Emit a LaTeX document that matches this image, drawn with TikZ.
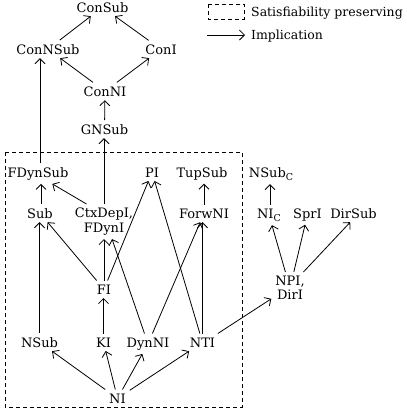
\documentclass[tikz,border=0pt]{standalone}
\usepackage{fontspec}
\setmainfont{DejaVu Serif}
\usetikzlibrary{arrows.meta}
\newcommand{\subC}{\raisebox{-3pt}{\fontsize{9.5}{9.5}\selectfont C}}
\begin{document}
\begin{tikzpicture}[x=1pt,y=-1pt,font=\fontsize{13}{14.5}\selectfont,
  lbl/.style={inner sep=1pt,outer sep=3pt,align=center,anchor=base},
  two/.style={inner sep=1pt,outer sep=3pt,align=center},
  legtext/.style={anchor=base west,inner sep=0pt,font=\fontsize{12.5}{14}\selectfont},
  imp/.style={line width=0.8pt,-{Straight Barb[length=5pt,width=10pt]}},
  sat/.style={line width=0.8pt,dash pattern=on 4pt off 3pt}]
\useasboundingbox (0,0) rectangle (407,410);
% nodes (single-line nodes are placed at their baselines)
\node[lbl] (ConSub) at (102.5,12) {ConSub};
\node[lbl] (ConNSub) at (48,54) {ConNSub};
\node[lbl] (ConI) at (161,54) {ConI};
\node[lbl] (ConNI) at (105,96) {ConNI};
\node[lbl] (GNSub) at (104.5,134) {GNSub};
\node[lbl] (FDynSub) at (38,177) {FDynSub};
\node[lbl] (PI) at (152,177) {PI};
\node[lbl] (TupSub) at (202,177) {TupSub};
\node[lbl] (NSubC) at (271,177) {NSub\subC};
\node[lbl] (Sub) at (40,218) {Sub};
\node[two] (CtxDepI) at (104,221.5) {CtxDepI,\\FDynI};
\node[lbl] (ForwNI) at (204,218) {ForwNI};
\node[lbl] (NIC) at (269,218) {NI\subC};
\node[lbl] (SprI) at (307.5,218) {SprI};
\node[lbl] (DirSub) at (353.5,218) {DirSub};
\node[lbl] (FI) at (104,294) {FI};
\node[two] (NPI) at (290,288) {NPI,\\DirI};
\node[lbl] (NSub) at (39.5,347) {NSub};
\node[lbl] (KI) at (103.5,347) {KI};
\node[lbl] (DynNI) at (148,347) {DynNI};
\node[lbl] (NTI) at (202.5,347) {NTI};
\node[lbl] (NI) at (117.5,403) {NI};
% satisfiability preserving region
\draw[sat] (5,152) rectangle (242,407);
% legend
\draw[sat] (208,4) rectangle (244,19);
\node[legtext] (legsat) at (251,16) {Satisfiability preserving};
\coordinate (impa) at (207,35);
\coordinate (impb) at (245,35);
\draw[imp] (impa) -- (impb);
\node[legtext] (legimp) at (251,39) {Implication};
% edges
\draw[imp] (ConNSub) -- (ConSub);
\draw[imp] (ConI) -- (ConSub);
\draw[imp] (ConNI) -- (ConNSub);
\draw[imp] (ConNI) -- (ConI);
\draw[imp] (GNSub) -- (ConNI);
\draw[imp] (CtxDepI) -- (CtxDepI |- GNSub.south);
\draw[imp] ([xshift=2pt]FDynSub.north) -- ([xshift=2pt]FDynSub.north |- ConNSub.south);
\draw[imp] ([xshift=1pt]Sub.north) -- ([xshift=1pt]Sub.north |- FDynSub.south);
\draw[imp] (CtxDepI.135) -- (FDynSub.-36);
\draw[imp] (FI) -- (Sub);
\draw[imp] (NSub) -- (NSub |- Sub.south);
\draw[imp] (FI) -- (FI |- CtxDepI.south);
\draw[imp] (DynNI) -- ([xshift=8pt]CtxDepI.south);
\draw[imp] (FI) -- (PI);
\draw[imp] (NTI) -- (PI);
\draw[imp] (DynNI) -- (ForwNI);
\draw[imp] (NTI) -- (NTI |- ForwNI.south);
\draw[imp] (ForwNI) -- (ForwNI |- TupSub.south);
\draw[imp] (KI) -- (KI |- FI.south);
\draw[imp] (NI) -- (NSub);
\draw[imp] (NI) -- (KI);
\draw[imp] (NI) -- (DynNI);
\draw[imp] (NI) -- (NTI);
\draw[imp] (NTI.30) -- (NPI.210);
\draw[imp] (NPI) -- (NIC);
\draw[imp] (NPI) -- (SprI);
\draw[imp] (NPI.50) -- (DirSub.-110);
\draw[imp] ([xshift=1pt]NIC.north) -- ([xshift=1pt]NIC.north |- NSubC.south);
\end{tikzpicture}
\end{document}
